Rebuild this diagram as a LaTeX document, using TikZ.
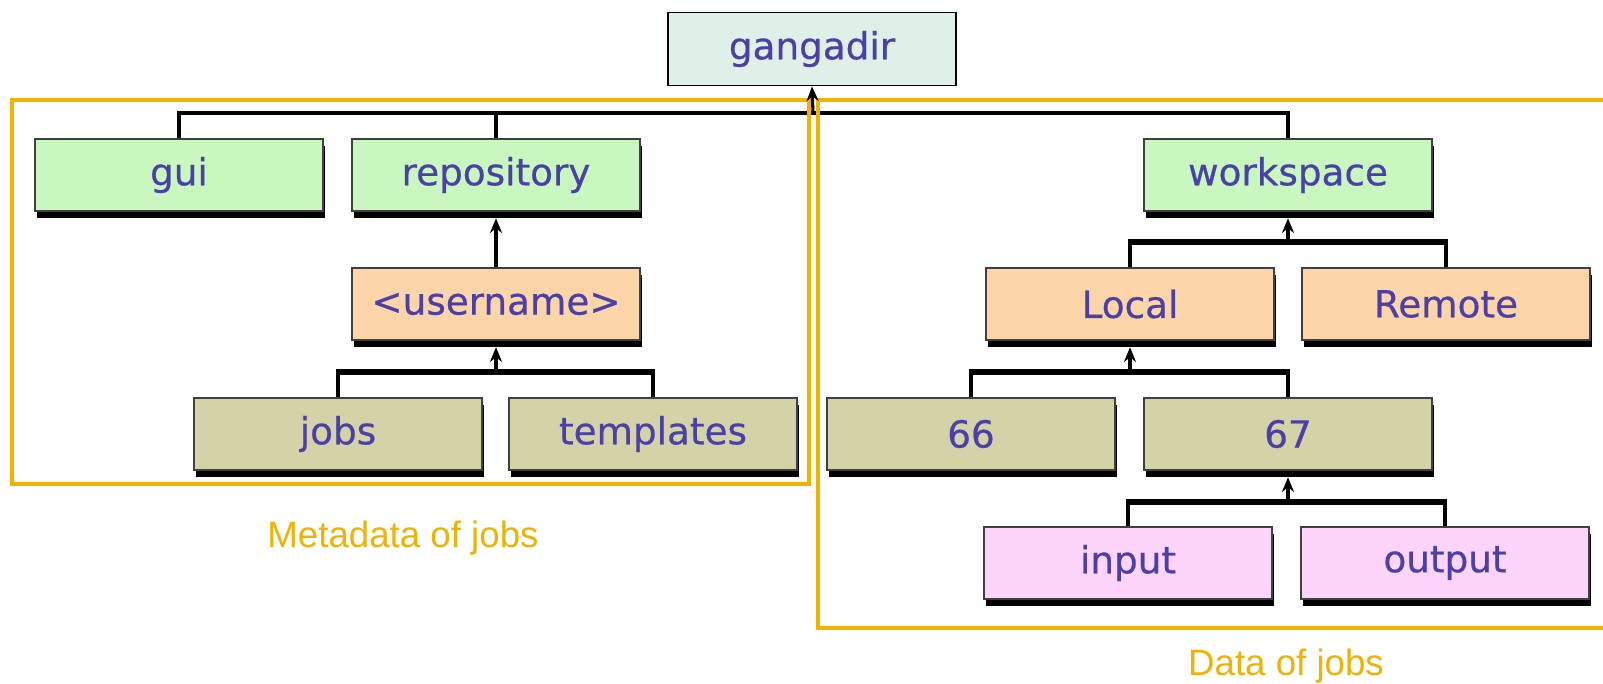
\documentclass[tikz,border=0pt]{standalone}
\usepackage{fontspec}
\newfontfamily\boxfont[FakeBold=0.6]{DejaVu Sans}
\newfontfamily\labfont{Liberation Sans}
\usetikzlibrary{shadows,arrows.meta}
\definecolor{txtblue}{RGB}{74,64,168}
\definecolor{mint}{RGB}{223,240,232}
\definecolor{lgreen}{RGB}{200,248,192}
\definecolor{peach}{RGB}{253,213,168}
\definecolor{khaki}{RGB}{212,211,168}
\definecolor{pink}{RGB}{252,212,252}
\definecolor{gold}{RGB}{242,178,0}
\tikzset{
  dirbox/.style={rectangle, draw=black!75, line width=0.9pt, fill=#1,
    minimum width=216pt, minimum height=54pt, inner sep=0pt,
    font=\boxfont\fontsize{28}{30}\selectfont, text=txtblue,
    general shadow={fill=black, shadow xshift=1.6pt, shadow yshift=-5pt}},
  topbox/.style={rectangle, draw=black, line width=1.2pt, fill=mint,
    minimum width=216pt, minimum height=55pt, inner sep=0pt,
    font=\boxfont\fontsize{28}{30}\selectfont, text=txtblue},
  vline/.style={draw=black, line width=2.3pt},
  hbar/.style={draw=black, line width=4.5pt},
  uparrow/.style={draw=black, line width=2.3pt, -{Stealth[length=11pt,width=9pt]}, shorten >=5pt},
  region/.style={draw=gold, line width=3pt},
  regionlabel/.style={font=\labfont\fontsize{27.5}{30}\selectfont, text=gold, anchor=base}
}
\begin{document}
\begin{tikzpicture}[x=0.75pt,y=-0.75pt]
\useasboundingbox (0,0) rectangle (1603,684);
\fill[white] (0,0) rectangle (1603,684);

% nodes
\node[topbox] (gangadir) at (812,49) {gangadir};
\node[dirbox=lgreen] (gui) at (179,175) {gui};
\node[dirbox=lgreen] (repository) at (496,175) {repository};
\node[dirbox=lgreen] (workspace) at (1288,175) {workspace};
\node[dirbox=peach] (username) at (496,304) {<username>};
\node[dirbox=peach] (local) at (1130,304) {Local};
\node[dirbox=peach] (remote) at (1446,304) {Remote};
\node[dirbox=khaki] (jobs) at (338,434) {jobs};
\node[dirbox=khaki] (templates) at (653,434) {templates};
\node[dirbox=khaki] (n66) at (971,434) {66};
\node[dirbox=khaki] (n67) at (1288,434) {67};
\node[dirbox=pink] (input) at (1128,563) {input};
\node[dirbox=pink] (output) at (1445,563) {output};

% top bus
\coordinate (bus) at (813,113);
\draw[vline] (gui.north) |- (bus) -| (workspace.north);
\draw[vline] (repository.north) -- (repository.north |- bus);

% username -> repository
\draw[uparrow] (username.north) -- (repository.south);

% jobs/templates -> username
\coordinate (b1) at (496,372);
\draw[vline] (jobs.north) -- (jobs.north |- b1);
\draw[vline] (templates.north) -- (templates.north |- b1);
\draw[hbar] ([xshift=-1.5pt]jobs.north |- b1) -- ([xshift=1.5pt]templates.north |- b1);
\draw[uparrow] (b1) -- (username.south);

% local/remote -> workspace
\coordinate (b2) at (1288,242);
\draw[vline] (local.north) -- (local.north |- b2);
\draw[vline] (remote.north) -- (remote.north |- b2);
\draw[hbar] ([xshift=-1.5pt]local.north |- b2) -- ([xshift=1.5pt]remote.north |- b2);
\draw[uparrow] (b2) -- (workspace.south);

% 66/67 -> local
\coordinate (b3) at (1130,372);
\draw[vline] (n66.north) -- (n66.north |- b3);
\draw[vline] (n67.north) -- (n67.north |- b3);
\draw[hbar] ([xshift=-1.5pt]n66.north |- b3) -- ([xshift=1.5pt]n67.north |- b3);
\draw[uparrow] (b3) -- (local.south);

% input/output -> 67
\coordinate (b4) at (1288,502);
\draw[vline] (input.north) -- (input.north |- b4);
\draw[vline] (output.north) -- (output.north |- b4);
\draw[hbar] ([xshift=-1.5pt]input.north |- b4) -- ([xshift=1.5pt]output.north |- b4);
\draw[uparrow] (b4) -- (n67.south);

% regions
\draw[region] (12,100) rectangle (809,484);
\draw[region] (1612,100) -- (818,100) -- (818,628) -- (1612,628);

% arrow to gangadir
\draw[uparrow, shorten >=0pt] (bus) -- (gangadir.south);

\node[regionlabel] (metalabel) at (403,547) {Metadata of jobs};
\node[regionlabel] (datalabel) at (1286,675) {Data of jobs};
\end{tikzpicture}
\end{document}
